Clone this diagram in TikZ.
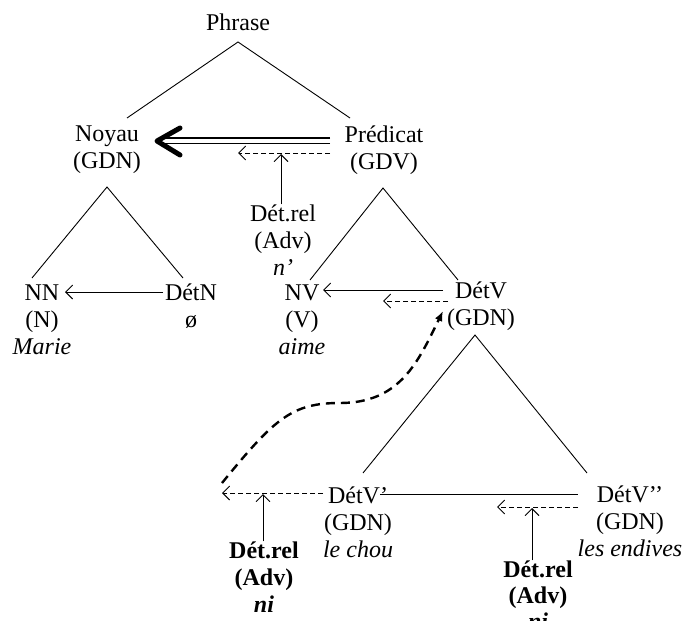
\documentclass[tikz,border=0pt]{standalone}
\usepackage{fontspec}
\setmainfont{Liberation Serif}
\usetikzlibrary{arrows.meta}
\begin{document}
\begin{tikzpicture}[x=1pt,y=-1pt,
  lbl/.style={align=center, inner sep=0pt, font=\fontsize{24}{27}\selectfont},
  tree/.style={line width=0.9pt},
  solidarr/.style={line width=0.9pt, -{Straight Barb[length=7pt,width=14pt,line width=0.9pt]}},
  dasharr/.style={solidarr, dash pattern=on 5pt off 3pt},
  bigdash/.style={line width=2.4pt, dash pattern=on 9pt off 6pt, -{Latex[length=10pt,width=8pt]}},
  dblline/.style={line width=1.6pt},
  chevron/.style={line width=5pt, line cap=round, line join=round}
]
\useasboundingbox (0,0) rectangle (684,620);

% nodes
\node[lbl] (phrase) at (238,22) {Phrase};
\node[lbl] (noyau) at (107,150) {Noyau\\(GDN)};
\node[lbl] (pred) at (384,150) {Prédicat\\(GDV)};
\node[lbl] (detrelA) at (283,240) {Dét.rel\\(Adv)\\\textit{n’}};
\node[lbl] (nn) at (42,320) {NN\\(N)\\\textit{Marie}};
\node[lbl] (detn) at (191,306) {DétN\\ø};
\node[lbl] (nv) at (302,320) {NV\\(V)\\\textit{aime}};
\node[lbl] (detv) at (481,306) {DétV\\(GDN)};
\node[lbl] (detvA) at (358,522) {DétV’\\(GDN)\\\textit{le chou}};
\node[lbl] (detvB) at (630,521) {DétV’’\\(GDN)\\\textit{les endives}};
\node[lbl, font=\fontsize{24}{27}\selectfont\bfseries] (detrelB) at (264,577) {Dét.rel\\(Adv)\\\textit{ni}};
\node[lbl, font=\fontsize{24}{26}\selectfont\bfseries] (detrelC) at (538,595) {Dét.rel\\(Adv)\\\textit{ni}};

% tree coordinates
\coordinate (a0) at (238,42);
\coordinate (a0l) at (127,118);
\coordinate (a0r) at (350,118);
\coordinate (a1) at (107,187);
\coordinate (a1l) at (32,278);
\coordinate (a1r) at (183,278);
\coordinate (a2) at (383,188);
\coordinate (a2l) at (310,280);
\coordinate (a2r) at (458,280);
\coordinate (a3) at (475,335);
\coordinate (a3l) at (363,473);
\coordinate (a3r) at (587,473);

\draw[tree] (a0l) -- (a0) -- (a0r);
\draw[tree] (a1l) -- (a1) -- (a1r);
\draw[tree] (a2l) -- (a2) -- (a2r);
\draw[tree] (a3l) -- (a3) -- (a3r);

% double arrow Predicat -> Noyau
\coordinate (dblS1) at (330,138);
\coordinate (dblE1) at (162,138);
\coordinate (dblS2) at (330,143.5);
\coordinate (dblE2) at (162,143.5);
\draw[dblline] (dblS1) -- (dblE1);
\draw[dblline] (dblS2) -- (dblE2);
\coordinate (chA) at (180,128);
\coordinate (chB) at (157,141);
\coordinate (chC) at (180,155);
\draw[chevron] (chA) -- (chB) -- (chC);

% dashed arrow under it, and vertical from Det.rel
\coordinate (d1s) at (330,153);
\coordinate (d1e) at (238,153);
\draw[dasharr] (d1s) -- (d1e);
\coordinate (v1e) at (281,154);
\draw[solidarr] (detrelA.north -| v1e) -- (v1e);

% NN <- DetN
\coordinate (nnA) at (163,292);
\coordinate (nnB) at (65,292);
\draw[solidarr] (nnA) -- (nnB);

% NV <- DetV
\coordinate (nvA) at (443,290);
\coordinate (nvB) at (323,290);
\draw[solidarr] (nvA) -- (nvB);
\coordinate (nvC) at (448,301);
\coordinate (nvD) at (383,301);
\draw[dasharr] (nvC) -- (nvD);

% big dashed curve
\coordinate (cS) at (222,483);
\coordinate (cE) at (443,311);
\draw[bigdash] (cS) .. controls (275,418) and (292,403) .. (340,403)
  .. controls (400,403) and (418,362) .. (cE);

% bottom left dashed arrow + vertical
\coordinate (d2s) at (323,493);
\coordinate (d2e) at (222,493);
\draw[dasharr] (d2s) -- (d2e);
\coordinate (v2e) at (263,494);
\draw[solidarr] (detrelB.north -| v2e) -- (v2e);

% line DetV' -- DetV''
\coordinate (lA) at (380,494);
\coordinate (lB) at (578,494);
\draw[tree] (lA) -- (lB);
\coordinate (d3s) at (578,507);
\coordinate (d3e) at (497,507);
\draw[dasharr] (d3s) -- (d3e);
\coordinate (v3e) at (532,508);
\draw[solidarr] (detrelC.north -| v3e) -- (v3e);
\end{tikzpicture}
\end{document}
